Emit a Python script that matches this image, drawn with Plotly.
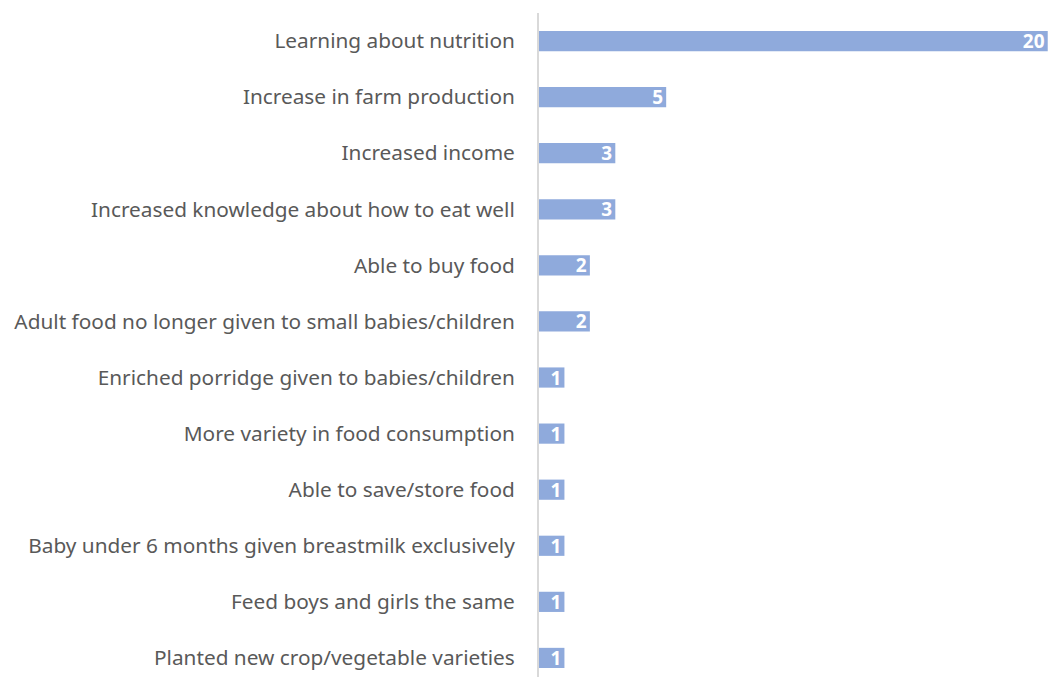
import plotly.graph_objects as go

categories = [
    "Learning about nutrition",
    "Increase in farm production",
    "Increased income",
    "Increased knowledge about how to eat well",
    "Able to buy food",
    "Adult food no longer given to small babies/children",
    "Enriched porridge given to babies/children",
    "More variety in food consumption",
    "Able to save/store food",
    "Baby under 6 months given breastmilk exclusively",
    "Feed boys and girls the same",
    "Planted new crop/vegetable varieties",
]
counts = [20, 5, 3, 3, 2, 2, 1, 1, 1, 1, 1, 1]

fig = go.Figure(
    go.Bar(
        x=counts,
        y=categories,
        orientation="h",
        marker=dict(color="#8faadc", line=dict(width=0)),
        width=0.36,
        text=[str(c) for c in counts],
        textposition="inside",
        insidetextanchor="end",
        textangle=0,
        constraintext="none",
        textfont=dict(family="Noto Sans", size=19, color="white", weight="bold"),
        cliponaxis=False,
    )
)

fig.update_layout(
    width=1049,
    height=677,
    margin=dict(l=539, r=0, t=13, b=0),
    paper_bgcolor="white",
    plot_bgcolor="white",
    showlegend=False,
    uniformtext=dict(minsize=19, mode="show"),
    xaxis=dict(
        range=[0, 20.05],
        visible=False,
        showgrid=False,
        zeroline=False,
    ),
    yaxis=dict(
        autorange=False,
        range=[11.34, -0.5],
        showgrid=False,
        zeroline=False,
        showline=True,
        linecolor="#d9d9d9",
        linewidth=2,
        ticks="",
        ticklabelstandoff=18,
        tickfont=dict(family="Noto Sans", size=20.8, color="#595959"),
    ),
)

fig.write_html("out.html")
